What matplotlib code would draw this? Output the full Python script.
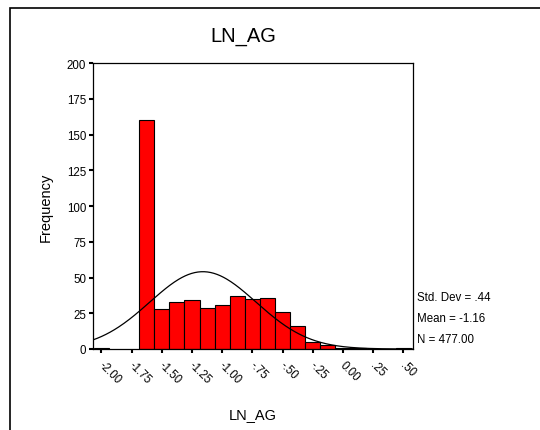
import numpy as np
import matplotlib
matplotlib.use('Agg')
import matplotlib.pyplot as plt
import matplotlib.transforms as mtransforms
from matplotlib.patches import Rectangle

plt.rcParams['font.family'] = ['Liberation Sans', 'DejaVu Sans']

# histogram bins (centres) and counts
centers = [-2.0, -1.625, -1.5, -1.375, -1.25, -1.125, -1.0, -0.875, -0.75,
           -0.625, -0.5, -0.375, -0.25, -0.125, 0.0, 0.125, 0.5]
counts = [1, 160, 28, 33, 34, 29, 31, 37, 35, 36, 26, 16, 5, 3, 1, 1, 1]
bin_w = 0.125

mean = -1.16
sd = 0.44
n = 477

xticks = [-2.0, -1.75, -1.5, -1.25, -1.0, -0.75, -0.5, -0.25, 0.0, 0.25, 0.5]
xlabels = ['-2.00', '-1.75', '-1.50', '-1.25', '-1.00', '-.75', '-.50', '-.25',
           '0.00', '.25', '.50']
yticks = [0, 25, 50, 75, 100, 125, 150, 175, 200]

fig = plt.figure(figsize=(5.4, 4.31), dpi=100)
ax = fig.add_axes([93/540, 1-350/431, 320/540, 286/431])

ax.bar(centers, counts, width=bin_w, color='#ff0000', edgecolor='black', linewidth=0.8)

xs = np.linspace(-2.07, 0.58, 300)
ys = n * bin_w / (sd * np.sqrt(2*np.pi)) * np.exp(-0.5*((xs-mean)/sd)**2)
ax.plot(xs, ys, color='black', lw=0.9)

ax.set_xlim(-2.07, 0.58)
ax.set_ylim(0, 200)
ax.set_yticks(yticks)
ax.set_yticklabels([str(v) for v in yticks], fontsize=8.3)
ax.set_xticks(xticks)
ax.set_xticklabels(xlabels, fontsize=8.3, rotation=-45, ha='left', va='top',
                   rotation_mode='anchor')
ax.tick_params(direction='out', length=3, width=1.5, pad=2)
ax.tick_params(axis='x', pad=4)
shift = mtransforms.ScaledTranslation(3/100, 0, fig.dpi_scale_trans)
for lab in ax.get_xticklabels():
    lab.set_transform(lab.get_transform() + shift)
for s in ax.spines.values():
    s.set_linewidth(0.9)

ax.set_ylabel('Frequency', fontsize=10.5, labelpad=10)
fig.text(253/540, 1-415/431, 'LN_AG', fontsize=10.5, ha='center', va='center')
fig.text(243/540, 1-37/431, 'LN_AG', fontsize=14.5, ha='center', va='center')

fig.text(417/540, 1-298/431, 'Std. Dev = .44', fontsize=8.3, va='center')
fig.text(417/540, 1-319/431, 'Mean = -1.16', fontsize=8.3, va='center')
fig.text(417/540, 1-340/431, 'N = 477.00', fontsize=8.3, va='center')

# outer frame
fig.patches.append(Rectangle((10/540, -0.1), 1.2, 1.1 - 9/431, transform=fig.transFigure,
                             fill=False, edgecolor='black', lw=1.2))

fig.savefig('out.png', dpi=100)
